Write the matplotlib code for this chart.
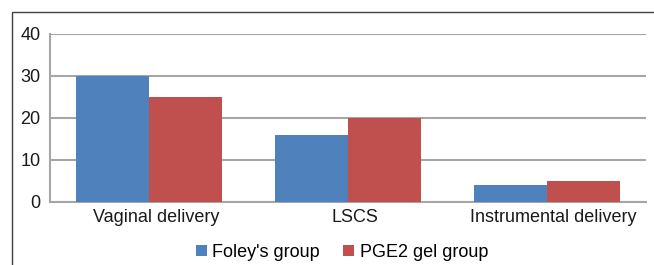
import matplotlib.pyplot as plt
import matplotlib.patches as mpatches
import matplotlib.transforms as mtransforms
import numpy as np

plt.rcParams['font.family'] = ['Liberation Sans', 'DejaVu Sans']

categories = ['Vaginal delivery', 'LSCS', 'Instrumental delivery']
foley = [30, 16, 4]
pge2 = [25, 20, 5]
series_names = ["Foley's group", 'PGE2 gel group']
colors = ['#4F81BD', '#C0504D']
yticks = [0, 10, 20, 30, 40]

W, H = 654, 265
fig = plt.figure(figsize=(W / 100, H / 100), dpi=100)
ax = fig.add_axes([50 / W, 1 - 202 / H, 596 / W, 168 / H])

# outer frame (only top and left visible in the original)
fig.patches.append(mpatches.Rectangle((11.5 / W, -0.1), 1.2, 1 - 12 / H + 0.1,
                                      transform=fig.transFigure, fill=False,
                                      edgecolor='#404040', linewidth=1.0))

x = np.arange(len(categories))
bw = 0.367
ax.bar(x - bw / 2, foley, bw, color=colors[0], label=series_names[0], zorder=3)
ax.bar(x + bw / 2, pge2, bw, color=colors[1], label=series_names[1], zorder=3)

ax.set_xlim(-0.5, len(categories) - 0.5)
ax.set_ylim(0, 40)
ax.set_yticks(yticks)
ax.set_xticks(x)
ax.set_xticklabels(categories)
ax.yaxis.grid(True, color='#A6A6A6', linewidth=1.5, zorder=0)
ax.tick_params(axis='both', length=0, labelsize=13, colors='#1a1a1a', pad=5)
ax.tick_params(axis='y', pad=7)
for s in ['top', 'right']:
    ax.spines[s].set_visible(False)
for s in ['left', 'bottom']:
    ax.spines[s].set_color('#A6A6A6')
    ax.spines[s].set_linewidth(1.5)

# category labels sit a little right of the bar groups in the original
shift = mtransforms.ScaledTranslation(7 / 100, 0, fig.dpi_scale_trans)
for lbl in ax.get_xticklabels():
    lbl.set_transform(lbl.get_transform() + shift)

ax.legend(loc='center', bbox_to_anchor=(0.49, -0.30), ncol=2, frameon=False,
          fontsize=13, handlelength=0.6, handleheight=0.6, handletextpad=0.3,
          columnspacing=1.3)

fig.savefig('out.png', dpi=100)
